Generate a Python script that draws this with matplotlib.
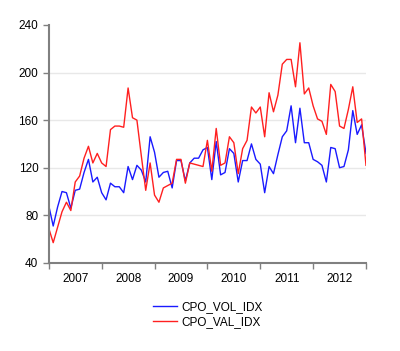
import matplotlib
matplotlib.use("Agg")
import matplotlib.pyplot as plt
import numpy as np

plt.rcParams["font.family"] = ["Liberation Sans", "DejaVu Sans"]

# monthly index values, Jan 2007 .. Jan 2013
vol_idx = [88, 71, 87, 100, 99, 86, 101, 102, 116, 127, 108, 112,
           99, 93, 107, 104, 104, 99, 121, 110, 122, 118, 108, 146,
           133, 112, 116, 117, 103, 126, 126, 109, 124, 128, 128, 135,
           137, 110, 142, 114, 116, 136, 132, 108, 126, 126, 140, 127,
           123, 99, 121, 115, 131, 146, 151, 172, 141, 170, 141, 141,
           127, 125, 122, 108, 137, 136, 120, 121, 135, 168, 148, 156,
           132]
val_idx = [69, 57, 70, 83, 91, 84, 108, 113, 128, 138, 124, 132,
           124, 121, 152, 155, 155, 154, 187, 162, 160, 130, 101, 124,
           97, 91, 103, 105, 107, 127, 127, 107, 124, 123, 122, 121,
           143, 117, 153, 122, 124, 146, 141, 115, 136, 143, 171, 166,
           171, 146, 183, 167, 181, 207, 211, 211, 188, 225, 182, 187,
           172, 161, 159, 148, 190, 184, 155, 153, 169, 188, 158, 161,
           122]
years = ["2007", "2008", "2009", "2010", "2011", "2012"]
y_ticks = [40, 80, 120, 160, 200, 240]

fig = plt.figure(figsize=(4.0, 3.51), dpi=100)
ax = fig.add_axes([0.122, 0.251, 0.793, 0.678])

x = np.arange(len(vol_idx))
ax.plot(x, vol_idx, color="#1a1aff", lw=1.0, label="CPO_VOL_IDX")
ax.plot(x, val_idx, color="#ff2020", lw=1.0, label="CPO_VAL_IDX")

ax.set_xlim(0, len(vol_idx) - 1)
ax.set_ylim(40, 240)
ax.set_yticks(y_ticks)
for v in y_ticks[1:-1]:
    ax.axhline(v, color="#e8e8e8", lw=1.0, zorder=0)

# year boundaries as ticks, labels centred between them
ax.set_xticks(np.arange(0, 73, 12))
ax.set_xticklabels([])
ax.set_xticks(np.arange(6, 72, 12), minor=True)
ax.set_xticklabels(years, minor=True)
ax.tick_params(axis="x", which="minor", length=0, pad=7, labelsize=8.5)
ax.tick_params(axis="x", which="major", length=4, color="#808080", width=1)
ax.tick_params(axis="y", length=4, color="#808080", width=1, labelsize=8.5)

for s in ["top", "right"]:
    ax.spines[s].set_visible(False)
for s in ["left", "bottom"]:
    ax.spines[s].set_color("#808080")
    ax.spines[s].set_linewidth(1.5)

fig.legend(loc="upper center", bbox_to_anchor=(0.52, 0.172), frameon=False,
           fontsize=8.5, handlelength=2.0, handletextpad=0.4, labelspacing=0.25)

fig.savefig("out.png", dpi=100)
